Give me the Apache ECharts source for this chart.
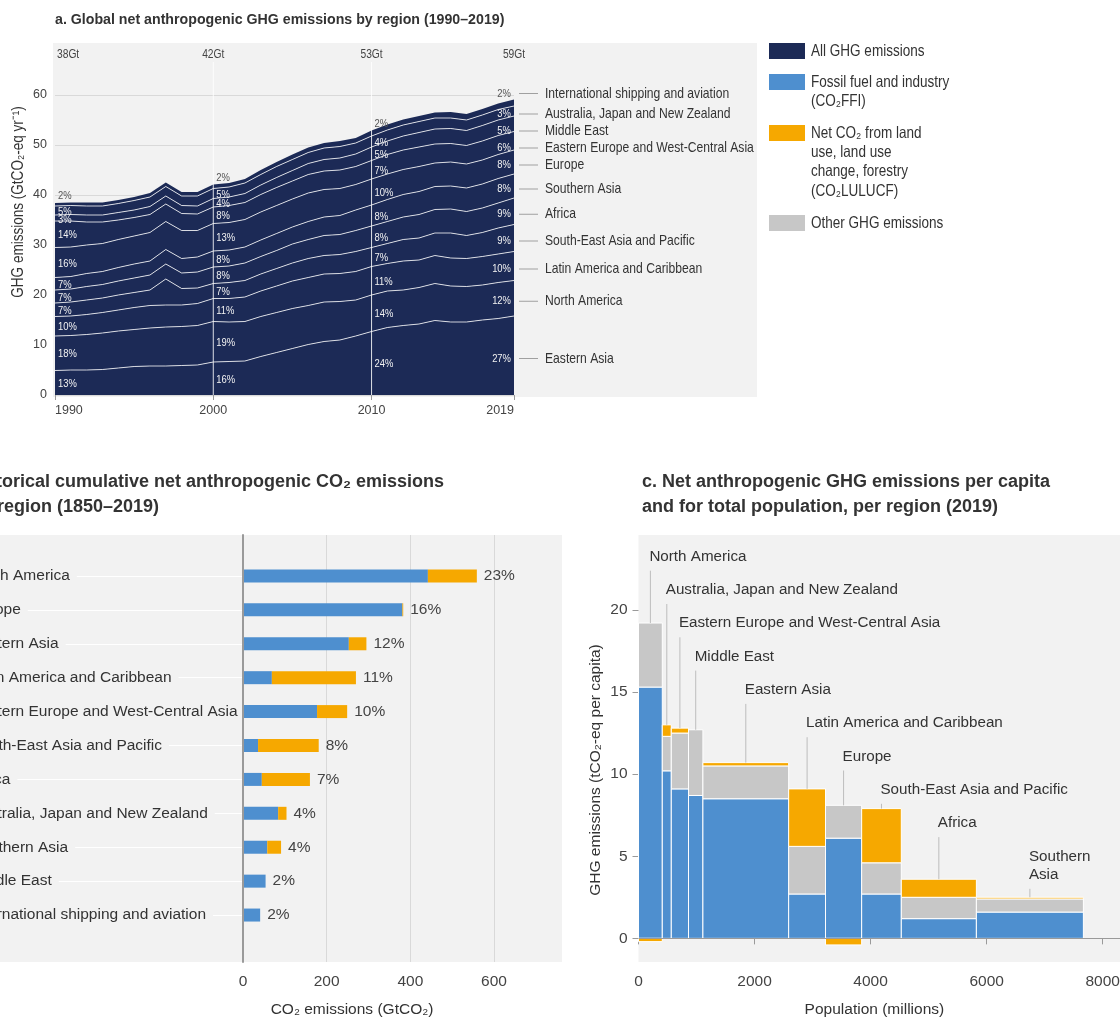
<!DOCTYPE html>
<html>
<head>
<meta charset="utf-8">
<script src="https://cdn.jsdelivr.net/npm/echarts@6/dist/echarts.min.js"></script>
<style>
  html, body { margin: 0; padding: 0; background: #fff; }
  #chart { width: 1120px; height: 1019px; }
</style>
</head>
<body>
<div id="chart"></div>
<script>
// ---------- fonts & colours ----------
const FONT = '"Liberation Sans", Arial, sans-serif';
const NARROW = 0.82;   // horizontal squeeze for the condensed lettering of panel a and the legend
const NAVY = '#1c2a56', BLUE = '#4e8fcf', ORANGE = '#f6a800', GREY = '#c7c7c7';
const PANEL = '#f2f2f2', INK = '#333333';

// ---------- panel a: annual net GHG emissions by region (GtCO2-eq/yr) ----------
const years = ['1990','1991','1992','1993','1994','1995','1996','1997','1998','1999',
               '2000','2001','2002','2003','2004','2005','2006','2007','2008','2009',
               '2010','2011','2012','2013','2014','2015','2016','2017','2018','2019'];
// stacking order, bottom to top
const regionsA = ['Eastern Asia', 'North America', 'Latin America and Caribbean',
  'South-East Asia and Pacific', 'Africa', 'Southern Asia', 'Europe',
  'Eastern Europe and West-Central Asia', 'Middle East',
  'Australia, Japan and New Zealand', 'International shipping and aviation'];
const easternAsia  = [4.9,5.0,5.0,5.1,5.4,5.7,5.8,5.8,5.9,6.0, 6.6,6.7,6.8,7.7,8.5,9.3,10.1,10.7,11.0,11.8, 12.7,13.5,13.9,14.2,14.9,14.6,14.6,15.0,15.3,15.8];
const northAmerica = [6.9,6.9,7.1,7.3,7.4,7.4,7.6,7.8,7.8,7.9, 8.1,7.9,7.9,8.0,8.0,8.0,7.8,7.9,7.7,7.2, 7.3,7.3,7.1,7.3,7.4,7.2,7.1,7.0,7.2,7.1];
const latinAmerica = [3.9,3.9,4.0,4.1,4.2,4.4,4.5,4.4,4.3,4.4, 4.6,4.7,4.9,5.1,5.3,5.5,5.6,5.6,5.6,5.7, 5.7,5.5,5.8,5.5,5.6,5.6,5.6,5.7,5.7,5.8];
const seAsiaPacific= [2.7,2.8,2.9,2.9,3.0,3.0,3.1,5.2,3.3,3.1, 3.0,3.2,3.3,3.4,3.5,3.6,3.8,3.7,3.8,4.0, 3.8,4.0,4.3,4.4,4.5,5.0,4.6,4.8,5.2,5.4];
const africa       = [2.6,2.6,2.7,2.7,2.8,2.9,3.0,3.0,3.1,3.2, 3.3,3.3,3.5,3.5,3.6,3.8,3.8,4.0,4.0,4.2, 4.3,4.4,4.5,4.7,4.7,4.8,4.8,4.9,5.0,5.3];
const southernAsia = [2.5,2.5,2.6,2.6,2.7,2.8,2.8,2.9,2.9,3.0, 3.2,3.2,3.2,3.3,3.4,3.4,3.6,3.7,3.8,4.1, 4.2,4.4,4.5,4.6,4.6,4.6,4.7,4.8,4.9,4.8];
const europe       = [6.0,5.9,5.7,5.6,5.6,5.6,5.7,5.6,5.6,5.3, 5.5,5.5,5.5,5.6,5.6,5.6,5.7,5.5,5.4,5.1, 5.2,5.1,5.0,5.0,4.7,4.8,4.8,4.8,4.8,4.8];
const easternEurope= [5.3,5.2,4.6,4.3,3.9,3.7,3.6,3.5,3.4,3.3, 3.3,3.4,3.4,3.5,3.6,3.6,3.7,3.7,3.7,3.6, 3.7,3.9,3.9,3.9,3.8,3.7,3.7,3.8,3.8,3.7];
const middleEast   = [1.2,1.3,1.4,1.4,1.5,1.5,1.6,1.6,1.6,1.6, 1.7,1.7,1.8,1.9,2.0,2.1,2.2,2.3,2.4,2.5, 2.7,2.7,2.8,2.9,3.0,3.0,3.0,3.1,3.1,3.1];
const ausJapanNZ   = [1.8,1.8,1.8,1.8,1.8,1.9,1.9,1.9,1.9,2.0, 2.0,2.0,2.1,2.1,2.2,2.2,2.2,2.3,2.3,2.2, 2.2,2.2,2.2,2.2,2.2,2.1,2.1,2.1,2.1,2.0];
const shippingAviation = [0.6,0.6,0.7,0.7,0.7,0.7,0.8,0.8,0.8,0.8, 0.8,0.8,0.8,0.9,0.9,1.0,1.0,1.0,1.1,1.0, 1.1,1.1,1.1,1.1,1.1,1.2,1.2,1.2,1.2,1.3];
const seriesA = [easternAsia, northAmerica, latinAmerica, seAsiaPacific, africa, southernAsia,
                 europe, easternEurope, middleEast, ausJapanNZ, shippingAviation];
const shareYears = ['1990', '2000', '2010', '2019'];
const yTicksA = [0, 10, 20, 30, 40, 50, 60];

// ---------- panel b: cumulative net CO2 1850-2019 (GtCO2) ----------
const regionsB = ['North America', 'Europe', 'Eastern Asia', 'Latin America and Caribbean',
  'Eastern Europe and West-Central Asia', 'South-East Asia and Pacific', 'Africa',
  'Australia, Japan and New Zealand', 'Southern Asia', 'Middle East',
  'International shipping and aviation'];
const cumFossil = [442, 381, 253, 69, 177, 36, 45, 84, 58, 54, 41];
const cumLand   = [117, 2, 42, 201, 72, 145, 115, 20, 33, 0, 0];
const xTicksB = [0, 200, 400, 600];

// ---------- panel c: per-capita emissions 2019 (tCO2-eq per capita) ----------
const regionsC = ['North America', 'Australia, Japan and New Zealand',
  'Eastern Europe and West-Central Asia', 'Middle East', 'Eastern Asia',
  'Latin America and Caribbean', 'Europe', 'South-East Asia and Pacific', 'Africa',
  'Southern\nAsia'];
const populationM   = [410, 155, 297, 248, 1478, 635, 623, 683, 1294, 1844];
const perCapFossil  = [15.3, 10.2, 9.1, 8.7, 8.5, 2.7, 6.1, 2.7, 1.2, 1.6];
const perCapOther   = [3.9, 2.1, 3.4, 4.0, 2.0, 2.9, 2.0, 1.9, 1.3, 0.8];
const perCapLand    = [-0.2, 0.7, 0.3, 0.0, 0.2, 3.5, -0.4, 3.3, 1.1, 0.1];
const xTicksC = [0, 2000, 4000, 6000, 8000];
const yTicksC = [0, 5, 10, 15, 20];

// ---------- derived data ----------
const totalB = cumFossil.reduce((s, v, i) => s + v + cumLand[i], 0);
const popEdges = [];
populationM.reduce((acc, p) => { popEdges.push([acc, acc + p]); return acc + p; }, 0);
const dataC = regionsC.map((name, i) =>
  [popEdges[i][0], popEdges[i][1], perCapFossil[i], perCapOther[i], perCapLand[i], i]);

// ---------- helpers ----------
function text(x, y, str, o) {
  o = o || {};
  const align = o.align || 'left', valign = o.valign || 'middle';
  return {
    type: 'text', x: x, y: y, rotation: o.rotation || 0, scaleX: o.sx || 1,
    z: o.z || 50, silent: true,
    style: {
      text: str, fill: o.color || INK,
      fontSize: o.size || 14, fontFamily: FONT, fontWeight: o.weight || 'normal',
      align: align, verticalAlign: valign, textAlign: align, textVerticalAlign: valign
    }
  };
}
function line(x1, y1, x2, y2, color, width, z) {
  return { type: 'line', silent: true, z: z || 5,
    shape: { x1: x1, y1: y1, x2: x2, y2: y2 },
    style: { stroke: color, lineWidth: width || 1 } };
}
function rect(x, y, w, h, color, z) {
  return { type: 'rect', silent: true, z: z === undefined ? -1 : z,
    shape: { x: x, y: y, width: w, height: h }, style: { fill: color } };
}
const showYearIdx = shareYears.map(y => years.indexOf(y));

// ---------- series ----------
const series = [];
// panel a: filled stack
seriesA.forEach((vals, k) => {
  series.push({
    name: regionsA[k], type: 'line', xAxisIndex: 0, yAxisIndex: 0, stack: 'ghg',
    data: vals, symbol: 'none', silent: true, z: 2,
    lineStyle: { width: 0, opacity: 0 },
    areaStyle: { color: NAVY, opacity: 1 },
    emphasis: { disabled: true }
  });
});
// panel a: white boundary lines between regions
seriesA.slice(0, seriesA.length - 1).forEach((vals) => {
  series.push({
    type: 'line', xAxisIndex: 0, yAxisIndex: 0, stack: 'ghgEdges',
    data: vals, symbol: 'none', silent: true, z: 3,
    lineStyle: { color: 'rgba(255,255,255,0.78)', width: 1 },
    emphasis: { disabled: true }
  });
});
// panel b
series.push({
  name: 'Fossil fuel and industry', type: 'bar', xAxisIndex: 2, yAxisIndex: 2, stack: 'cum',
  data: cumFossil, barWidth: 13, itemStyle: { color: BLUE }, silent: true
});
series.push({
  name: 'Net CO2 from land use', type: 'bar', xAxisIndex: 2, yAxisIndex: 2, stack: 'cum',
  data: cumLand, barWidth: 13, itemStyle: { color: ORANGE }, silent: true,
  label: {
    show: true, position: 'right', distance: 7,
    fontFamily: FONT, fontSize: 15.5, color: '#444',
    formatter: p => Math.round((cumFossil[p.dataIndex] + cumLand[p.dataIndex]) / totalB * 100) + '%'
  }
});
// panel c: variable-width stacked columns with region call-outs
series.push({
  type: 'custom', xAxisIndex: 3, yAxisIndex: 3, data: dataC, silent: true, z: 2,
  encode: { x: [0, 1], y: [2] },
  renderItem: function (params, api) {
    const i = api.value(5);
    const x0 = api.coord([api.value(0), 0])[0];
    const x1 = api.coord([api.value(1), 0])[0];
    const yp = v => api.coord([0, v])[1];
    const ffi = api.value(2), oth = api.value(3), luc = api.value(4);
    const seg = (a, b, color) => ({
      type: 'rect',
      shape: { x: x0, y: yp(Math.max(a, b)), width: x1 - x0, height: Math.abs(yp(a) - yp(b)) },
      style: { fill: color, stroke: '#ffffff', lineWidth: 1 }
    });
    const kids = [seg(0, ffi, BLUE), seg(ffi, ffi + oth, GREY)];
    if (luc > 0) kids.push(seg(ffi + oth, ffi + oth + luc, ORANGE));
    if (luc < 0) kids.push(seg(luc, 0, ORANGE));
    const top = ffi + oth + Math.max(luc, 0);
    const cx = (x0 + x1) / 2;
    const name = regionsC[i];
    const nLines = name.split('\n').length;
    const lh = 18.4;
    const ly = params.coordSys.y + 21.7 + 33.3 * i;
    kids.push({
      type: 'line',
      shape: { x1: cx, y1: ly + (nLines - 1) * lh + 14, x2: cx, y2: yp(top) },
      style: { stroke: '#bdbdbd', lineWidth: 1 }
    });
    kids.push({
      type: 'text',
      style: {
        text: name, x: cx - 1, y: ly - lh / 2, fill: INK,
        fontSize: 15.2, fontFamily: FONT, lineHeight: lh,
        align: 'left', verticalAlign: 'top', textAlign: 'left', textVerticalAlign: 'top'
      }
    });
    return { type: 'group', children: kids };
  },
  markLine: {
    silent: true, symbol: ['none', 'none'], animation: false,
    label: { show: false },
    lineStyle: { color: '#9a9a9a', width: 1.2, type: 'solid' },
    data: [{ yAxis: 0 }]
  }
});

// ---------- option ----------
const tickLabel = (size) => ({ fontFamily: FONT, fontSize: size, color: '#444' });
const plain = v => String(v);
const option = {
  animation: false,
  backgroundColor: '#ffffff',
  textStyle: { fontFamily: FONT },
  grid: [
    { left: 55, right: 606, top: 95, bottom: 624, outerBoundsMode: 'none' },                 // a
    { left: 243, right: 558, top: 535, bottom: 57, outerBoundsMode: 'none' },                // b axes
    { left: 243, right: 558, top: 559, bottom: 87, outerBoundsMode: 'none' },                // b bars
    { left: 638.5, right: 0, top: 535, bottom: 57, outerBoundsMode: 'none', show: true,
      backgroundColor: PANEL, borderWidth: 0 }                                                // c
  ],
  xAxis: [
    { type: 'category', gridIndex: 0, data: years, boundaryGap: false,
      axisLine: { show: false },
      axisTick: { show: true, alignWithLabel: true, length: 5,
        interval: idx => showYearIdx.indexOf(idx) >= 0, lineStyle: { color: '#9a9a9a' } },
      axisLabel: Object.assign({ interval: idx => showYearIdx.indexOf(idx) >= 0, margin: 9,
        alignMinLabel: 'left', alignMaxLabel: 'right' }, tickLabel(12.5)),
      splitLine: { show: false } },
    { type: 'value', gridIndex: 1, min: 0, max: 762.6, interval: 200,
      axisLine: { show: false }, axisTick: { show: false },
      axisLabel: Object.assign({ customValues: xTicksB, margin: 12, formatter: plain }, tickLabel(15.5)),
      splitLine: { show: true, showMinLine: false, showMaxLine: false, lineStyle: { color: '#d9d9d9', width: 1 } } },
    { type: 'value', gridIndex: 2, min: 0, max: 762.6, show: false },
    { type: 'value', gridIndex: 3, min: 0, max: 8298, interval: 2000,
      axisLine: { show: false },
      axisTick: { show: true, customValues: xTicksC, length: 6, lineStyle: { color: '#9a9a9a' } },
      axisLabel: Object.assign({ customValues: xTicksC, margin: 12, formatter: plain }, tickLabel(15.5)),
      splitLine: { show: false } }
  ],
  yAxis: [
    { type: 'value', gridIndex: 0, min: yTicksA[0], max: yTicksA[yTicksA.length - 1], interval: 10,
      axisLine: { show: false }, axisTick: { show: false },
      axisLabel: Object.assign({ margin: 8 }, tickLabel(12.5)),
      splitLine: { lineStyle: { color: '#d9d9d9', width: 1 } } },
    { type: 'value', gridIndex: 1, min: 0, max: 1, z: 4,
      axisLine: { show: true, onZero: false, lineStyle: { color: '#9a9a9a', width: 2 } },
      axisTick: { show: false }, axisLabel: { show: false }, splitLine: { show: false } },
    { type: 'category', gridIndex: 2, data: regionsB, inverse: true,
      axisLine: { show: false },
      axisTick: { show: true, alignWithLabel: true, length: 273, lineStyle: { color: '#ffffff', width: 1 } },
      axisLabel: { margin: 272.2, align: 'left', fontFamily: FONT, fontSize: 15.5, color: INK,
        backgroundColor: PANEL, padding: [1, 7, 1, 0] },
      splitLine: { show: false } },
    { type: 'value', gridIndex: 3, min: -1.44, max: 24.56,
      axisLine: { show: false },
      axisTick: { show: true, customValues: yTicksC, length: 6, lineStyle: { color: '#9a9a9a' } },
      axisLabel: Object.assign({ customValues: yTicksC, margin: 11, formatter: plain }, tickLabel(15.5)),
      splitLine: { show: false } }
  ],
  series: series
};

const chart = echarts.init(document.getElementById('chart'), null, { renderer: 'canvas' });
chart.setOption(option);

// ---------- annotations placed through the axes ----------
const g = [];
// panel backgrounds
g.push(rect(53, 43, 704, 354, PANEL, -1));
g.push(rect(-5, 535, 567, 427, PANEL, -1));

// titles
g.push(text(55, 20.5, 'a. Global net anthropogenic GHG emissions by region (1990–2019)',
  { size: 14.2, weight: 'bold', color: '#333' }));
g.push(text(444, 481.7, 'b. Historical cumulative net anthropogenic CO₂ emissions',
  { size: 18, weight: 'bold', color: '#333', align: 'right' }));
g.push(text(159, 506.7, 'per region (1850–2019)',
  { size: 18, weight: 'bold', color: '#333', align: 'right' }));
g.push(text(642, 481.7, 'c. Net anthropogenic GHG emissions per capita',
  { size: 18, weight: 'bold', color: '#333' }));
g.push(text(642, 506.7, 'and for total population, per region (2019)',
  { size: 18, weight: 'bold', color: '#333' }));

// axis names
g.push(text(18, 202, 'GHG emissions (GtCO₂-eq yr⁻¹)',
  { size: 16.5, sx: NARROW, rotation: Math.PI / 2, align: 'center', color: '#333' }));
g.push(text(352, 1010, 'CO₂ emissions (GtCO₂)', { size: 15.5, align: 'center', color: '#333' }));
g.push(text(874.4, 1010, 'Population (millions)', { size: 15.5, align: 'center', color: '#333' }));
g.push(text(596, 770, 'GHG emissions (tCO₂-eq per capita)',
  { size: 15.5, rotation: Math.PI / 2, align: 'center', color: '#333' }));

// legend
const legendItems = [
  { color: NAVY,   y: 43,  lines: ['All GHG emissions'] },
  { color: BLUE,   y: 74,  lines: ['Fossil fuel and industry', '(CO₂FFI)'] },
  { color: ORANGE, y: 125, lines: ['Net CO₂ from land', 'use, land use', 'change, forestry', '(CO₂LULUCF)'] },
  { color: GREY,   y: 215, lines: ['Other GHG emissions'] }
];
legendItems.forEach(it => {
  g.push(rect(769, it.y, 36, 16, it.color, 10));
  it.lines.forEach((s, j) => g.push(text(811, it.y + 8 + j * 19.4, s, { size: 16.5, sx: NARROW, color: '#333' })));
});

// panel a: year dividers, totals and regional shares
const pxA = (idx, v) => chart.convertToPixel({ xAxisIndex: 0, yAxisIndex: 0 }, [idx, v]);
const lastK = seriesA.length - 1;
showYearIdx.forEach((yi, j) => {
  const vals = seriesA.map(s => s[yi]);
  const total = vals.reduce((a, b) => a + b, 0);
  const centers = [];
  let cum = 0;
  vals.forEach(v => { centers.push(cum + v / 2); cum += v; });
  const isEnd = j === showYearIdx.length - 1;
  const x = pxA(yi, 0)[0];
  const topPx = pxA(yi, total)[1];
  const gap = isEnd ? 17 : 8.5, off = isEnd ? 3 : 1;
  const ys = [];
  ys[lastK] = topPx - (isEnd ? 6 : 7);
  for (let k = lastK - 1; k >= 0; k--) {
    ys[k] = Math.max(pxA(yi, centers[k])[1] + off, ys[k + 1] + gap);
  }
  // divider line for the interior years
  if (j > 0 && !isEnd) g.push(line(x, 62, x, pxA(yi, 0)[1], 'rgba(255,255,255,0.85)', 1, 6));
  // total label
  g.push(text(j === 0 ? x + 2 : x, 55, Math.round(total) + 'Gt',
    { size: 12.5, sx: NARROW, color: '#444', align: j === 0 ? 'left' : 'center' }));
  vals.forEach((v, k) => {
    g.push(text(isEnd ? x - 3 : x + 3, ys[k], Math.round(v / total * 100) + '%', {
      size: 11.5, sx: NARROW, align: isEnd ? 'right' : 'left',
      color: k === lastK ? '#555' : '#f2f2f2'
    }));
    if (isEnd) {
      g.push(line(519, ys[k], 538, ys[k], '#a0a0a0', 1, 6));
      g.push(text(545, ys[k], regionsA[k], { size: 14.8, sx: NARROW, color: '#333' }));
    }
  });
});

chart.setOption({ graphic: { elements: g } });
</script>
</body>
</html>
